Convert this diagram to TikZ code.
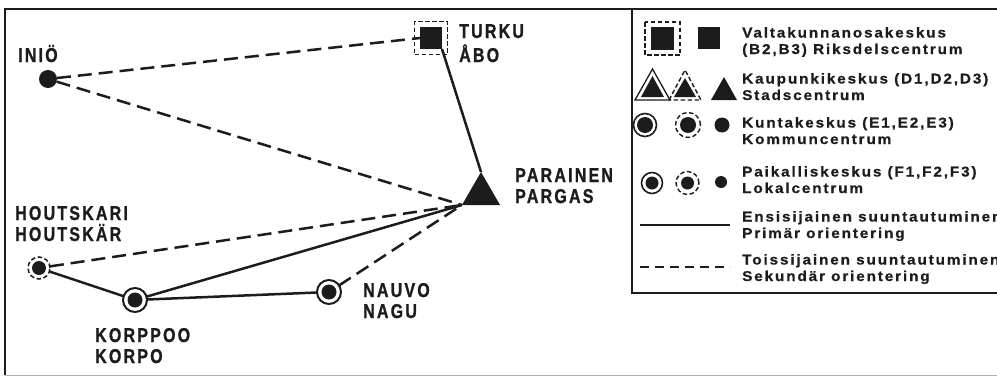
\documentclass[tikz,border=0pt]{standalone}
\usepackage{fontspec}
\usetikzlibrary{shapes.geometric}
% condensed, tracked bold capitals for the place names; extended, tracked bold face for the key
\newfontfamily\placefont{Liberation Sans Bold}[FakeStretch=0.8, LetterSpace=11, FakeBold=1]
\newfontfamily\keyfont{Liberation Sans Bold}[FakeStretch=1.08, LetterSpace=13, FakeBold=0.6]
\definecolor{inkc}{HTML}{1C1C1C}
\begin{document}
\begin{tikzpicture}[x=1pt, y=-1pt,
  framestyle/.style={draw=inkc, line width=2pt},
  conn/.style={draw=inkc, line width=2.5pt},
  solidconn/.style={conn},
  dashconn/.style={conn, dash pattern=on 14pt off 7pt},
  filldot/.style={circle, fill=inkc, inner sep=0pt, outer sep=0pt, minimum size=#1},
  solidring/.style={circle, draw=inkc, line width=2pt, inner sep=0pt, outer sep=0pt, minimum size=#1},
  dashring/.style={circle, draw=inkc, line width=1.5pt, dash pattern=on 4.5pt off 2.5pt, inner sep=0pt, outer sep=0pt, minimum size=#1},
  placelabel/.style={font=\placefont\fontsize{20}{21}\selectfont, text=inkc, inner sep=0pt, anchor=base west, align=left},
  keylabel/.style={font=\keyfont\fontsize{14.2}{16.5}\selectfont, text=inkc, inner sep=0pt, anchor=base west, align=left},
  keyfill/.style={fill=inkc},
  keydash/.style={draw=inkc, line width=1.4pt, dash pattern=on 4.5pt off 2.5pt},
  keysolid/.style={draw=inkc, line width=1.3pt}
]
\useasboundingbox (0,0) rectangle (997,378);
\clip (0,0) rectangle (997,378);

% ---- frame of the map and of the key ----
\draw[framestyle] (5,375) -- (5,9) -- (1000,9);
\draw[gray!60, line width=1pt] (5,375) -- (1000,375);
\draw[framestyle] (632,9) -- (632,293) -- (1000,293);

% ---- centres ----
\node[filldot=18pt] (ini) at (48,79) {};
\node[dashring=33pt, shape=rectangle] (turring) at (431,38) {};
\node[fill=inkc, inner sep=0pt, outer sep=0pt, minimum size=22pt] (tur) at (431,38) {};
\node[regular polygon, regular polygon sides=3, fill=inkc, inner sep=0pt, outer sep=0pt, minimum size=44pt] (par) at (481,194) {};
\node[dashring=22pt] (hou) at (39,268) {};
\node[filldot=14pt] (houin) at (39,268) {};
\node[solidring=24pt] (kor) at (135,300) {};
\node[filldot=15pt] (korin) at (135,300) {};
\node[solidring=24pt] (nau) at (329,292) {};
\node[filldot=15pt] (nauin) at (329,292) {};

% ---- orientations ----
\draw[dashconn] (ini) -- (tur.west);
\draw[dashconn] (ini) -- (par.corner 2);
\draw[solidconn] (tur.south east) -- (par.corner 1);
\draw[dashconn] (hou) -- (par.corner 2);
\draw[solidconn] (hou) -- (kor);
\draw[solidconn] (kor) -- (par.corner 2);
\draw[solidconn] (kor) -- (nau);
\draw[dashconn] (nau) -- (par.corner 2);

% ---- place names (anchored at the baseline of the last line) ----
\node[placelabel] (ininame) at (18,62) {INIÖ};
\node[placelabel, font=\placefont\fontsize{20}{24}\selectfont] (turname) at (459,62) {TURKU\\ÅBO};
\node[placelabel] (parname) at (515,203) {PARAINEN\\PARGAS};
\node[placelabel] (houname) at (15,241) {HOUTSKARI\\HOUTSKÄR};
\node[placelabel] (korname) at (95,363) {KORPPOO\\KORPO};
\node[placelabel] (nauname) at (363,318) {NAUVO\\NAGU};

% ---- key: symbols ----
\draw[keydash] (645,22) rectangle (680,55);
\fill[keyfill] (651,27) rectangle (674,50);
\fill[keyfill] (698,27) rectangle (720,49);

\draw[keysolid] (635,100) -- (652.5,69) -- (670,100) -- cycle;
\fill[keyfill] (641,97) -- (652.5,76) -- (664,97) -- cycle;
\draw[keydash] (669,100) -- (685,70) -- (701,100) -- cycle;
\fill[keyfill] (674,97) -- (685,78) -- (696,97) -- cycle;
\fill[keyfill] (711,100) -- (724,77) -- (737,100) -- cycle;

\draw[keysolid, line width=1.6pt] (645,125) circle (11.5pt);
\fill[keyfill] (645,125) circle (8pt);
\draw[keydash] (688,125) circle (12.5pt);
\fill[keyfill] (688,125) circle (8pt);
\fill[keyfill] (722,125) circle (7.5pt);

\draw[keysolid, line width=1.6pt] (652,183) circle (10.5pt);
\fill[keyfill] (652,183) circle (6.5pt);
\draw[keydash] (687.5,183) circle (11.5pt);
\fill[keyfill] (687.5,183) circle (6.5pt);
\fill[keyfill] (721,182) circle (6pt);

\draw[draw=inkc, line width=1.6pt] (640,225) -- (730,225);
\draw[draw=inkc, line width=1.6pt, dash pattern=on 9pt off 6pt] (640,267) -- (730,267);

% ---- key: texts (anchored at the baseline of the second line) ----
\node[keylabel] (key1) at (742,54) {Valtakunnanosakeskus\\(B2,B3) Riksdelscentrum};
\node[keylabel] (key2) at (742,100) {Kaupunkikeskus (D1,D2,D3)\\Stadscentrum};
\node[keylabel] (key3) at (742,144) {Kuntakeskus (E1,E2,E3)\\Kommuncentrum};
\node[keylabel] (key4) at (742,193) {Paikalliskeskus (F1,F2,F3)\\Lokalcentrum};
\node[keylabel] (key5) at (742,238) {Ensisijainen suuntautuminen\\Primär orientering};
\node[keylabel] (key6) at (742,281) {Toissijainen suuntautuminen\\Sekundär orientering};
\end{tikzpicture}
\end{document}
